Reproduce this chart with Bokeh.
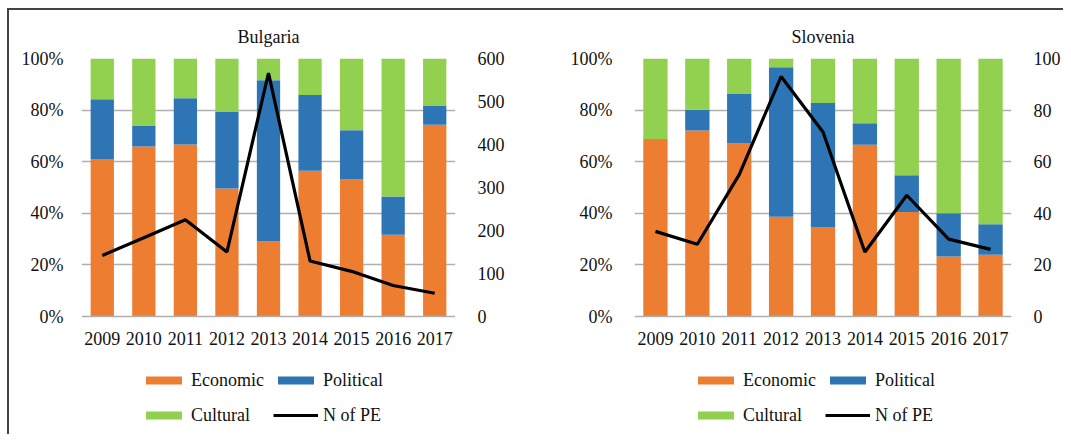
from bokeh.plotting import figure
from bokeh.models import (Range1d, LinearAxis, FixedTicker, NumeralTickFormatter,
                          Legend, LegendItem, ColumnDataSource)
from bokeh.layouts import row
from bokeh.embed import file_html
from bokeh.resources import INLINE

years = ["2009", "2010", "2011", "2012", "2013", "2014", "2015", "2016", "2017"]

bg_economic = [61.0, 65.9, 66.7, 49.6, 29.1, 56.5, 53.1, 31.7, 74.3]
bg_political = [23.2, 8.1, 17.9, 29.7, 62.5, 29.4, 19.1, 14.8, 7.5]
bg_cultural = [15.8, 26.0, 15.4, 20.7, 8.4, 14.1, 27.8, 53.5, 18.2]
bg_n = [142, 183, 225, 150, 566, 129, 105, 72, 54]
bg_n_ticks = [0, 100, 200, 300, 400, 500, 600]

si_economic = [68.8, 72.1, 67.1, 38.7, 34.5, 66.6, 40.5, 23.3, 23.9]
si_political = [0.0, 8.0, 19.1, 57.9, 48.3, 8.3, 14.2, 16.7, 11.9]
si_cultural = [31.2, 19.9, 13.8, 3.4, 17.2, 25.1, 45.3, 60.0, 64.2]
si_n = [33, 28, 55, 93, 71.5, 25, 47, 30, 26]
si_n_ticks = [0, 20, 40, 60, 80, 100]

pct_ticks = [0, 0.2, 0.4, 0.6, 0.8, 1.0]

FONT = "Liberation Serif"
COLORS = ["#ED7D31", "#2E75B6", "#92D050"]
TXT = "#111111"

# layout (pixels)
BORDER_TOP = 48
PLOT_H = 258          # height of the 0..100% area
BELOW = 114          # extra frame area below 0% (for the legend)
FIG_H = 424
MB_BOTTOM = FIG_H - BORDER_TOP - PLOT_H - BELOW
LOW = -BELOW / PLOT_H


def make_panel(title, econ, pol, cult, n, nticks, width, ml, mr, lstand, rstand,
               leg_x, bar_w):
    src = ColumnDataSource(dict(
        year=years,
        Economic=[v / 100 for v in econ],
        Political=[v / 100 for v in pol],
        Cultural=[v / 100 for v in cult],
        n=n,
    ))
    p = figure(x_range=years, y_range=Range1d(LOW, 1), width=width, height=FIG_H,
               output_backend="svg", toolbar_location=None,
               min_border_left=ml, min_border_right=mr, min_border_top=BORDER_TOP,
               min_border_bottom=MB_BOTTOM, title=title)
    p.extra_y_ranges = {"n": Range1d(LOW * nticks[-1], nticks[-1])}
    p.title.align = "center"
    p.title.text_font = FONT
    p.title.text_font_size = "18px"
    p.title.text_font_style = "normal"
    p.title.text_color = TXT
    p.title.offset = 0
    p.title.standoff = 24
    p.outline_line_color = None

    rs = p.vbar_stack(["Economic", "Political", "Cultural"], x="year", width=bar_w,
                      color=COLORS, line_color=None, source=src)
    ln = p.line(x="year", y="n", y_range_name="n", line_color="black",
                line_width=3.2, source=src)

    p.xgrid.grid_line_color = None
    p.ygrid.grid_line_color = "#b0b0b0"
    p.ygrid.grid_line_width = 1.5
    p.ygrid.ticker = FixedTicker(ticks=pct_ticks[1:])
    p.yaxis.ticker = FixedTicker(ticks=pct_ticks)
    p.yaxis.formatter = NumeralTickFormatter(format="0%")

    ax_r = LinearAxis(y_range_name="n", ticker=FixedTicker(ticks=nticks))
    p.add_layout(ax_r, "right")

    for ax in [p.yaxis[0], ax_r]:
        ax.axis_line_color = None
        ax.major_tick_line_color = None
        ax.minor_tick_line_color = None
        ax.major_label_text_font = FONT
        ax.major_label_text_font_size = "18px"
        ax.major_label_text_color = TXT
    p.yaxis[0].major_label_standoff = lstand
    ax_r.major_label_standoff = rstand

    xa = p.xaxis[0]
    xa.fixed_location = 0
    xa.axis_line_color = "#b0b0b0"
    xa.axis_line_width = 1.5
    xa.major_tick_line_color = None
    xa.minor_tick_line_color = None
    xa.major_label_text_font = FONT
    xa.major_label_text_font_size = "18px"
    xa.major_label_text_color = TXT
    xa.major_label_standoff = 9

    legend = Legend(items=[
        LegendItem(label="Economic", renderers=[rs[0]]),
        LegendItem(label="Cultural", renderers=[rs[2]]),
        LegendItem(label="Political", renderers=[rs[1]]),
        LegendItem(label="N of PE", renderers=[ln]),
    ], ncols=2, location=(leg_x, 2))
    legend.orientation = "vertical"
    legend.background_fill_alpha = 0
    legend.border_line_color = None
    legend.label_text_font = FONT
    legend.label_text_font_size = "18px"
    legend.label_text_color = TXT
    legend.glyph_width = 45
    legend.glyph_height = 10
    legend.label_height = 26
    legend.label_standoff = 5
    legend.spacing = 9
    legend.padding = 0
    legend.margin = 0
    p.add_layout(legend, "center")
    return p


p1 = make_panel("Bulgaria", bg_economic, bg_political, bg_cultural, bg_n, bg_n_ticks,
                531, 72, 85, 12, 16, 60, 0.56)
p2 = make_panel("Slovenia", si_economic, si_political, si_cultural, si_n, si_n_ticks,
                523, 94, 49, 16, 16, 59, 0.58)

layout = row(p1, p2, margin=(8, 0, 0, 7),
             styles={"border-left": "2px solid #444444",
                     "border-top": "2px solid #444444"})

open("out.html", "w").write(file_html(layout, INLINE))
